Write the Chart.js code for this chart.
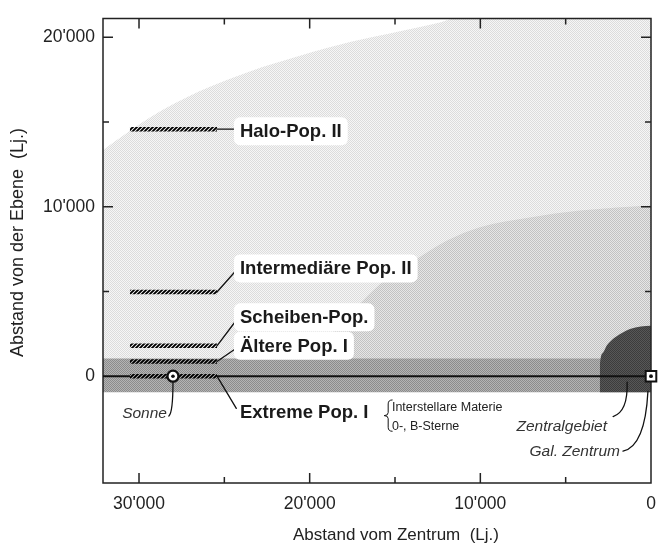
<!DOCTYPE html>
<html>
<head>
<meta charset="utf-8">
<title>Populationen der Galaxis</title>
<script src="https://cdn.jsdelivr.net/npm/chart.js@4.4.0/dist/chart.umd.min.js"></script>
<style>
  html, body { margin: 0; padding: 0; background: #fff; }
</style>
</head>
<body>
<canvas id="galaxy" width="667" height="545"></canvas>
<script>
// Achsen
const xMax = 32110, yMin = -6300, yMax = 21100;
const xTickValues = [30000, 20000, 10000, 0];
const xTickLabels = ["30'000", "20'000", "10'000", "0"];
const xMinorTicks = [25000, 15000, 5000];
const yTickValues = [20000, 10000, 0];
const yTickLabels = ["20'000", "10'000", "0"];
const yMinorTicks = [15000, 5000];
const xTitle = 'Abstand vom Zentrum  (Lj.)';
const yTitle = 'Abstand von der Ebene  (Lj.)';

// Randkurven der Bereiche (Abstand vom Zentrum / Abstand von der Ebene, Lj.)
const haloX = [32110, 29360, 26430, 23500, 20570, 17640, 14710, 12360, 11490, 0];
const haloY = [13350, 15260, 16820, 17980, 18900, 19710, 20350, 20870, 21100, 21100];
const interX = [19690, 18220, 17230, 15880, 13950, 11950, 10020, 7090, 4160, 1230, 0];
const interY = [1040, 3120, 4100, 5430, 6760, 8000, 8790, 9360, 9770, 10000, 10050];
const coreX = [3000, 2990, 2810, 2600, 2230, 1700, 1230, 600, 0];
const coreY = [0, 640, 1390, 1800, 2200, 2550, 2780, 2930, 2980];
const diskTop = 1050, diskBottom = -950;

// Populationen (schraffierte Balken)
const popNames = ['Halo-Pop. II', 'Intermediäre Pop. II', 'Scheiben-Pop.', 'Ältere Pop. I', 'Extreme Pop. I'];
const popY = [14570, 4970, 1790, 870, 0];
const popFrom = 30530, popTo = 25430;
const sunX = 28010;
const centreX = 0;

const FONT = "'Liberation Sans', Arial, Helvetica, sans-serif";

/**
 * Muster: Schraffur und Raster
 */
let makePattern = function(w, h, draw) {
	let c = document.createElement('canvas');
	c.width = w; c.height = h;
	let g = c.getContext('2d');
	draw(g);
	return g.createPattern(c, 'repeat');
};
const hatch = makePattern(4, 4, function(g) {
	g.strokeStyle = '#000';
	g.lineWidth = 1.9;
	g.beginPath();
	g.moveTo(-1, 5); g.lineTo(5, -1);
	g.moveTo(-1, 1); g.lineTo(1, -1);
	g.moveTo(3, 5); g.lineTo(5, 3);
	g.stroke();
});
let checker = (a, b) => makePattern(2, 2, function(g) {
	g.fillStyle = a; g.fillRect(0, 0, 2, 2);
	g.fillStyle = b; g.fillRect(0, 0, 1, 1); g.fillRect(1, 1, 1, 1);
});

let pts = (xs, ys) => xs.map((x, i) => ({x: x, y: ys[i]}));

let area = (label, data, fill, color, order) => ({
	label: label, data: data, showLine: true, fill: fill,
	backgroundColor: color, borderWidth: 0, pointRadius: 0, order: order,
	cubicInterpolationMode: 'monotone'
});

const datasets = [
	area('halo', pts(haloX, haloY), 'origin', checker('#f6f6f6', '#dcdcdc'), 20),
	area('inter', pts(interX, interY), 'origin', checker('#e6e6e6', '#c2c2c2'), 19),
	area('disk', [{x: xMax, y: diskTop}, {x: 0, y: diskTop}], {value: diskBottom}, checker('#b4b4b4', '#8c8c8c'), 18),
	area('core', pts(coreX, coreY), {value: diskBottom}, checker('#575757', '#3c3c3c'), 17),
	{label: 'zeroLeft', data: [{x: xMax, y: 0}, {x: popFrom, y: 0}], showLine: true, borderColor: '#111', borderWidth: 2, pointRadius: 0, order: 15},
	{label: 'zeroRight', data: [{x: popTo, y: 0}, {x: centreX, y: 0}], showLine: true, borderColor: '#111', borderWidth: 2, pointRadius: 0, order: 15}
];
popY.forEach(function(y, i) {
	datasets.push({
		label: popNames[i], data: [{x: popFrom, y: y}, {x: popTo, y: y}],
		showLine: true, borderColor: hatch, borderWidth: 4.5, borderCapStyle: 'butt',
		pointRadius: 0, order: 10
	});
});
datasets.push(
	{label: 'Sonne', data: [{x: sunX, y: 0}], pointRadius: 5.5, borderWidth: 2.3,
		pointBackgroundColor: '#fff', pointBorderColor: '#111', order: 4},
	{label: 'SonneDot', data: [{x: sunX, y: 0}], pointRadius: 1.8, borderWidth: 0,
		pointBackgroundColor: '#111', order: 3},
	{label: 'Zentrum', data: [{x: centreX, y: 0}], pointStyle: 'rect', pointRadius: 7.5, borderWidth: 2,
		pointBackgroundColor: '#fff', pointBorderColor: '#111', clip: false, order: 4},
	{label: 'ZentrumDot', data: [{x: centreX, y: 0}], pointRadius: 1.9, borderWidth: 0,
		pointBackgroundColor: '#111', clip: false, order: 3}
);

/**
 * Rahmen mit Innen-Ticks, Achsentitel, Beschriftungen, Hinweislinien
 */
const decorations = {
	id: 'decorations',
	afterDatasetDraw(chart, args) {
		if (chart.data.datasets[args.index].label !== 'core') return;
		const ctx = chart.ctx, a = chart.chartArea;
		const sx = chart.scales.x, sy = chart.scales.y;
		ctx.save();
		ctx.strokeStyle = '#222';
		ctx.lineWidth = 1.5;
		ctx.strokeRect(a.left, a.top, a.right - a.left, a.bottom - a.top);
		ctx.beginPath();
		let tickX = (v, len) => {
			let p = sx.getPixelForValue(v);
			ctx.moveTo(p, a.top); ctx.lineTo(p, a.top + len);
			ctx.moveTo(p, a.bottom); ctx.lineTo(p, a.bottom - len);
		};
		let tickY = (v, len) => {
			let p = sy.getPixelForValue(v);
			ctx.moveTo(a.left, p); ctx.lineTo(a.left + len, p);
			ctx.moveTo(a.right, p); ctx.lineTo(a.right - len, p);
		};
		xTickValues.forEach(v => { if (v > 0) tickX(v, 10); });
		xMinorTicks.forEach(v => tickX(v, 6));
		yTickValues.forEach(v => { if (v !== 0) tickY(v, 10); });
		yMinorTicks.forEach(v => tickY(v, 6));
		ctx.stroke();

		// Achsentitel
		ctx.fillStyle = '#222';
		ctx.textBaseline = 'middle';
		ctx.textAlign = 'center';
		ctx.font = '17px ' + FONT;
		ctx.fillText(xTitle, a.left + 293, a.bottom + 52);
		ctx.save();
		ctx.translate(a.left - 85, a.top + 224);
		ctx.rotate(-Math.PI / 2);
		ctx.font = '18px ' + FONT;
		ctx.fillText(yTitle, 0, 0);
		ctx.restore();
		ctx.restore();
	},
	afterDatasetsDraw(chart) {
		const ctx = chart.ctx;
		const sx = chart.scales.x, sy = chart.scales.y;
		let X = v => sx.getPixelForValue(v), Y = v => sy.getPixelForValue(v);
		ctx.save();
		ctx.strokeStyle = '#111';
		ctx.lineWidth = 1.3;
		ctx.lineCap = 'round';

		// gerade Hinweislinien der Populationen
		const leaderEnds = [[24300, 14570], [24300, 6250], [24300, 3300], [24300, 1650], [24300, -1900]];
		ctx.beginPath();
		popY.forEach(function(y, i) {
			ctx.moveTo(X(popTo), Y(y));
			ctx.lineTo(X(leaderEnds[i][0]), Y(leaderEnds[i][1]));
		});
		// gebogene Linien: Sonne, Zentralgebiet, Gal. Zentrum
		const curves = [
			[[sunX, -330], [sunX, -2150], [28250, -2350]],
			[[2220, -2380], [1340, -2090], [1400, -350]],
			[[1640, -4420], [350, -4130], [180, -900]]
		];
		curves.forEach(function(c) {
			ctx.moveTo(X(c[0][0]), Y(c[0][1]));
			ctx.quadraticCurveTo(X(c[1][0]), Y(c[1][1]), X(c[2][0]), Y(c[2][1]));
		});
		ctx.stroke();

		// geschweifte Klammer
		let bx = X(15400), bt = Y(-1400), bb = Y(-3250), bm = (bt + bb) / 2;
		ctx.lineWidth = 1;
		ctx.beginPath();
		ctx.moveTo(bx + 4, bt);
		ctx.quadraticCurveTo(bx, bt, bx, bt + 4);
		ctx.lineTo(bx, bm - 3);
		ctx.quadraticCurveTo(bx, bm, bx - 4, bm);
		ctx.quadraticCurveTo(bx, bm, bx, bm + 3);
		ctx.lineTo(bx, bb - 4);
		ctx.quadraticCurveTo(bx, bb, bx + 4, bb);
		ctx.stroke();

		// Beschriftungen
		const labelY = [14450, 6360, 3470, 1790, -2080];
		const bold = 'bold 18.5px ' + FONT;
		let text = (t, x, y, font, align, color, box) => {
			ctx.font = font;
			ctx.textAlign = align;
			ctx.textBaseline = 'middle';
			let w = ctx.measureText(t).width;
			let px = X(x), py = Y(y);
			if (box) {
				let left = align === 'left' ? px - 6 : px - w - 6;
				ctx.fillStyle = '#fff';
				ctx.beginPath();
				ctx.roundRect(left, py - 14, w + 12, 28, 6);
				ctx.fill();
			}
			ctx.fillStyle = color;
			ctx.fillText(t, px, py + 1);
		};
		popNames.forEach(function(n, i) {
			text(n, 24085, labelY[i], bold, 'left', '#1a1a1a', i < 4);
		});
		text('Interstellare Materie', 15180, -1790, '12.5px ' + FONT, 'left', '#222', false);
		text('0-, B-Sterne', 15180, -2890, '12.5px ' + FONT, 'left', '#222', false);
		text('Sonne', 28362, -2140, 'italic 15.5px ' + FONT, 'right', '#333', false);
		text('Zentralgebiet', 2578, -2890, 'italic 15.5px ' + FONT, 'right', '#333', false);
		text('Gal. Zentrum', 1817, -4390, 'italic 15.5px ' + FONT, 'right', '#333', false);
		ctx.restore();
	}
};

new Chart(document.getElementById('galaxy'), {
	type: 'scatter',
	data: { datasets: datasets },
	options: {
		responsive: false,
		animation: false,
		layout: { padding: { top: 9, right: 16, left: 0, bottom: 0 } },
		plugins: { legend: { display: false }, tooltip: { enabled: false } },
		scales: {
			x: {
				type: 'linear', reverse: true, min: 0, max: xMax,
				afterFit: s => { s.height = 62; },
				afterBuildTicks: s => { s.ticks = xTickValues.map(v => ({value: v})); },
				grid: { display: false, drawTicks: false },
				border: { display: false },
				ticks: {
					padding: 11, color: '#222', maxRotation: 0,
					font: { family: FONT, size: 17.5 },
					callback: (v, i) => xTickLabels[i]
				}
			},
			y: {
				type: 'linear', min: yMin, max: yMax,
				afterFit: s => { s.width = 103; },
				afterBuildTicks: s => { s.ticks = yTickValues.map(v => ({value: v})); },
				grid: { display: false, drawTicks: false },
				border: { display: false },
				ticks: {
					padding: 8, color: '#222',
					font: { family: FONT, size: 17.5 },
					callback: (v, i) => yTickLabels[i]
				}
			}
		}
	},
	plugins: [decorations]
});
</script>
</body>
</html>
